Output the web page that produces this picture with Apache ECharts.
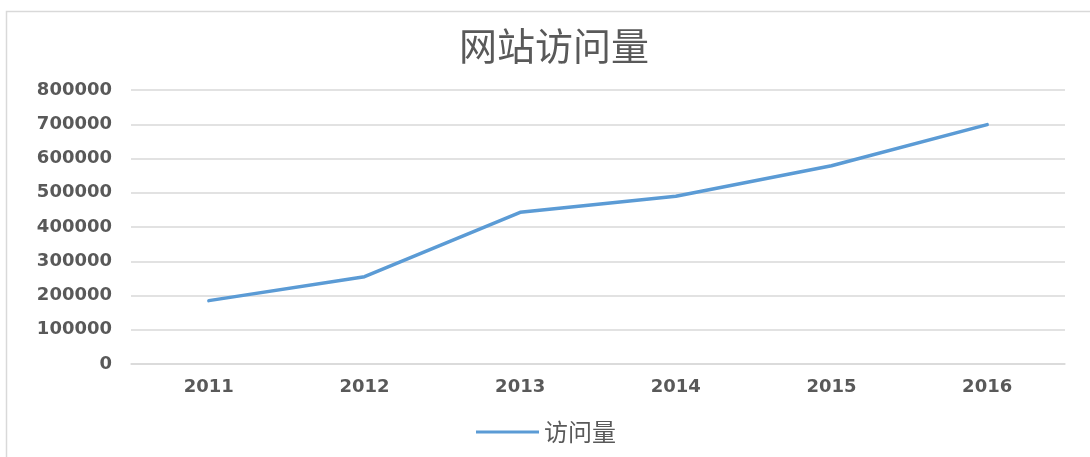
<!DOCTYPE html>
<html>
<head>
<meta charset="utf-8">
<script src="https://cdn.jsdelivr.net/npm/echarts@6/dist/echarts.min.js"></script>
<style>html,body{margin:0;padding:0;background:#fff}#c{width:1090px;height:457px}</style>
</head>
<body>
<div id="c"></div>
<script>
const titleText = '网站访问量';
const seriesName = '访问量';
const categories = ['2011', '2012', '2013', '2014', '2015', '2016'];
const visits = [185000, 255000, 443000, 490000, 579000, 699000];
const yMin = 0, yMax = 800000, yInterval = 100000;

const chart = echarts.init(document.getElementById('c'), null, {renderer: 'canvas'});
const labelFont = {color: '#595959', fontSize: 18, fontWeight: 'bold', fontFamily: 'DejaVu Sans'};
chart.setOption({
  animation: false,
  backgroundColor: '#fff',
  graphic: [{
    type: 'rect', left: 4, top: 9, silent: true,
    shape: {width: 1100, height: 470},
    style: {fill: 'none', stroke: '#d9d9d9', lineWidth: 1.5}
  }],
  title: {
    text: titleText, left: 454, top: 22,
    textStyle: {color: '#595959', fontSize: 38, fontWeight: 'normal', fontFamily: 'Noto Sans CJK SC'}
  },
  legend: {
    data: [seriesName], left: 471, top: 415, itemWidth: 63, itemHeight: 24, itemGap: 8,
    icon: 'path://M0,10.5 L63,10.5 L63,13.5 L0,13.5 Z',
    textStyle: {color: '#595959', fontSize: 24, fontFamily: 'Noto Sans CJK SC'}
  },
  grid: {left: 131, right: 25, top: 90, bottom: 93, containLabel: false},
  xAxis: {
    type: 'category', data: categories, boundaryGap: true,
    axisLine: {show: true, lineStyle: {color: '#d9d9d9', width: 1.5}},
    axisTick: {show: false},
    axisLabel: Object.assign({margin: 14}, labelFont)
  },
  yAxis: {
    type: 'value', min: yMin, max: yMax, interval: yInterval,
    axisLine: {show: false}, axisTick: {show: false},
    splitLine: {lineStyle: {color: '#d9d9d9', width: 1.5}},
    axisLabel: Object.assign({margin: 19, formatter: function (v) { return String(v); }}, labelFont)
  },
  series: [{
    name: seriesName, type: 'line', data: visits, showSymbol: false, symbol: 'none',
    lineStyle: {color: '#5B9BD5', width: 3.5, cap: 'round', join: 'round'},
    itemStyle: {color: '#5B9BD5'}
  }]
});
</script>
</body>
</html>
